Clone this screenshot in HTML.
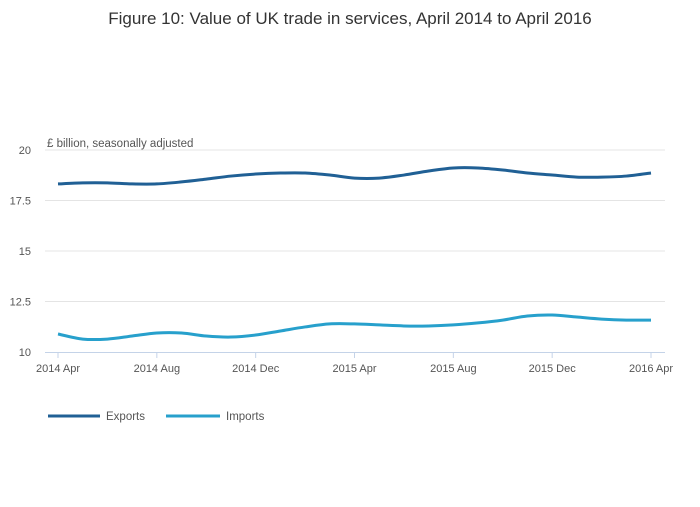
<!DOCTYPE html>
<html><head><meta charset="utf-8"><style>
body{margin:0;background:#fff;font-family:"Liberation Sans",sans-serif;}
svg text{font-family:"Liberation Sans",sans-serif;}
</style></head><body>
<svg id="c" width="700" height="502">
<text x="350" y="24" text-anchor="middle" font-size="17" fill="#333">Figure 10: Value of UK trade in services, April 2014 to April 2016</text>
<text x="47" y="147" font-size="11.5" fill="#555">£ billion, seasonally adjusted</text>
<g id="grid"></g><g id="series"></g>
<g>
<line x1="48" y1="416" x2="100" y2="416" stroke="#206095" stroke-width="3"/>
<text x="106" y="420" font-size="11.5" fill="#555">Exports</text>
<line x1="166" y1="416" x2="220" y2="416" stroke="#27a0cc" stroke-width="3"/>
<text x="226" y="420" font-size="11.5" fill="#555">Imports</text>
</g>
</svg>
<script>
const xLabels=["2014 Apr","2014 Aug","2014 Dec","2015 Apr","2015 Aug","2015 Dec","2016 Apr"];
const yTicks=[10,12.5,15,17.5,20];
const yTickLabels=["10","12.5","15","17.5","20"];
const exportsVals=[18.32,18.37,18.37,18.32,18.32,18.42,18.56,18.71,18.81,18.86,18.86,18.76,18.61,18.61,18.76,18.96,19.11,19.11,19.01,18.86,18.76,18.66,18.66,18.71,18.86];
const importsVals=[10.89,10.64,10.64,10.79,10.94,10.94,10.79,10.74,10.84,11.04,11.24,11.39,11.39,11.34,11.29,11.29,11.34,11.44,11.58,11.78,11.83,11.73,11.63,11.58,11.58];
const NS="http://www.w3.org/2000/svg";
const x=i=>58+i*(651-58)/24;
const y=v=>352-(v-10)*20.2;
const grid=document.getElementById('grid');
function mk(t,a,p){const e=document.createElementNS(NS,t);for(const k in a)e.setAttribute(k,a[k]);p.appendChild(e);return e;}
yTicks.forEach((v,i)=>{
 if(i>0){const l=mk('line',{x1:45,x2:665,y1:y(v),y2:y(v),stroke:'#e4e4e4','stroke-width':1},grid);
 
 }
 const t=mk('text',{x:31,y:y(v)+4,'font-size':11,fill:'#555','text-anchor':'end'},grid);t.textContent=yTickLabels[i];
 
 
});
const ax=mk('line',{x1:45,x2:665,y1:352.5,y2:352.5,stroke:'#c4d3e8','stroke-width':1},grid);


xLabels.forEach((s,i)=>{
 const xx=x(i*4);
 const tk=mk('line',{x1:xx,x2:xx,y1:352,y2:358,stroke:'#c4d3e8'},grid);
 
 
 const t=mk('text',{x:xx,y:372,'font-size':11,fill:'#555','text-anchor':'middle'},grid);t.textContent=s;
 
 
});
function path(vals){
 const p=vals.map((v,i)=>[x(i),y(v)]);let d=`M${p[0][0]},${p[0][1]}`;
 for(let i=0;i<p.length-1;i++){const p0=p[Math.max(0,i-1)],p1=p[i],p2=p[i+1],p3=p[Math.min(p.length-1,i+2)];
 d+=` C${p1[0]+(p2[0]-p0[0])/6},${p1[1]+(p2[1]-p0[1])/6} ${p2[0]-(p3[0]-p1[0])/6},${p2[1]-(p3[1]-p1[1])/6} ${p2[0]},${p2[1]}`;}
 return d;}
const sg=document.getElementById('series');
const e=mk('path',{d:path(exportsVals),fill:'none',stroke:'#206095','stroke-width':3},sg);


const im=mk('path',{d:path(importsVals),fill:'none',stroke:'#27a0cc','stroke-width':3},sg);


</script>
</body></html>
